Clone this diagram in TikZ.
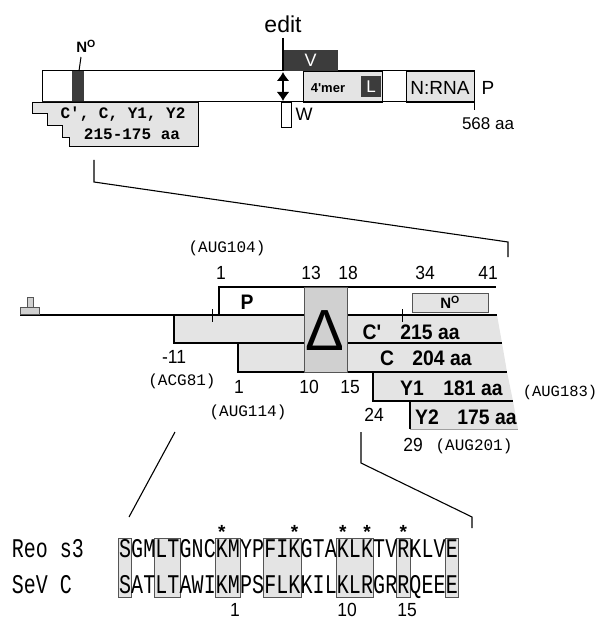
\documentclass[tikz,border=0pt]{standalone}
\usepackage{fontspec}
\setmainfont{Liberation Sans}
\newfontfamily\plainsans{Liberation Sans}
\newfontfamily\narrowf[FakeStretch=0.92]{Liberation Sans}
\newfontfamily\monof{Liberation Mono}
\newfontfamily\seqf[FakeStretch=0.74]{Liberation Mono}
\usetikzlibrary{arrows.meta}
\newcommand\fsz[1]{\fontsize{#1}{#1}\selectfont}
\definecolor{lg}{HTML}{E4E4E4}
\definecolor{mg}{HTML}{D0D0D0}
\definecolor{dg}{HTML}{3C3C3C}
\definecolor{bx}{HTML}{555555}
\tikzset{
  every node/.style={inner sep=0pt, outer sep=0pt},
  lab/.style={font=\fsz{19}\narrowf},
  blab/.style={font=\fsz{21}\narrowf\bfseries},
  mlab/.style={font=\fsz{16}\monof},
  seqc/.style={font=\fsz{27}\seqf, anchor=base},
  star/.style={font=\fsz{19}\bfseries, anchor=base},
  hl/.style={fill=lg, draw=bx, line width=0.8pt},
  rowfill/.style={fill=lg},
  zl/.style={line width=1.1pt},
}
\begin{document}
\begin{tikzpicture}[x=1pt,y=-1pt]
\useasboundingbox (0,0) rectangle (598,620);

% ===== top: P gene =====
\draw[line width=1pt, fill=white] (42,71) rectangle (474,102);
\fill[dg] (72,71) rectangle (84,102);
\draw[fill=lg, line width=0.8pt] (303,71) rectangle (382,102);
\draw[fill=lg, line width=0.8pt] (406,71) rectangle (474,102);
\draw[line width=1pt] (42,71) rectangle (474,102);
\node[fill=dg, minimum width=20pt, minimum height=21pt, text=white, font=\fsz{17}] (Lb) at (371,87) {L};
\node[font=\fsz{13}\plainsans\bfseries] (mer) at (328,88) {4'mer};
\node[font=\fsz{19}] (nrna) at (440,88) {N:RNA};
\node[font=\fsz{19}] (Ptop) at (488,88) {P};
\coordinate (endtick) at (474,110);
\draw[line width=0.8pt] (474,102) -- (endtick);
\node[font=\fsz{17}] (aa568) at (488,124) {568 aa};

\node[fill=dg, minimum width=55pt, minimum height=21pt, anchor=north west] (Vb) at (283,50) {};
\node[text=white, font=\fsz{18}] (V) at (Vb.center) {V};
\node[font=\fsz{23}] (edit) at (283,24) {edit};
\coordinate (editlo) at (283,38);
\draw[line width=1.2pt] (editlo) -- (Vb.south west);
\draw[line width=2.4pt, {Latex[length=9pt,width=13pt]}-{Latex[length=9pt,width=13pt]}] (283,72) -- (283,101);
\node[draw, line width=0.8pt, fill=white, minimum width=10pt, minimum height=25pt, anchor=north west] (Wb) at (281,102) {};
\node[font=\fsz{18}] (W) at (304,114) {W};

\node[font=\fsz{15}\bfseries] (No1) at (86,46) {N\textsuperscript{O}};
\draw[line width=1pt] (81,57) -- (79,71);

\draw[fill=lg, line width=0.9pt] (32,102) -- (198,102) -- (198,146) -- (69,146) -- (69,137) -- (62,137) -- (62,125) -- (47,125) -- (47,113) -- (32,113) -- cycle;
\node[font=\fsz{16}\monof\bfseries] (cc) at (123,114) {C', C, Y1, Y2};
\node[font=\fsz{16}\monof\bfseries] (aa215) at (132,134) {215-175 aa};

\coordinate (z1a) at (94,160);
\coordinate (z1b) at (94,182);
\coordinate (z1c) at (508,242);
\coordinate (z1d) at (508,257);
\draw[zl] (z1a) -- (z1b) -- (z1c) -- (z1d);

% ===== middle: C region =====
\fill[rowfill] (174,315) -- (497,315) -- (502,343) -- (174,343) -- cycle;
\fill[rowfill] (238,343) -- (502,343) -- (507,372) -- (238,372) -- cycle;
\fill[rowfill] (373,372) -- (507,372) -- (513,401) -- (373,401) -- cycle;
\fill[rowfill] (410,401) -- (513,401) -- (518,429) -- (410,429) -- cycle;
\draw[line width=1.1pt] (174,315) -- (174,343) -- (502,343);
\draw[line width=1.1pt] (238,343) -- (238,372) -- (507,372);
\draw[line width=1.1pt] (373,372) -- (373,401) -- (513,401);
\draw[line width=1.1pt] (410,401) -- (410,429);
\draw[line width=0.5pt, draw=lg!70!black] (410,429) -- (518,429);

\draw[line width=1.5pt] (20,315) -- (497,315);
\draw[fill=mg, draw=bx, line width=0.8pt] (27,297) rectangle (33,307);
\draw[fill=mg, draw=bx, line width=0.8pt] (20,307) rectangle (39,314);
\draw[line width=1.1pt] (219,315) -- (219,287) -- (496,287);
\draw[line width=0.6pt] (212,309) -- (212,322);
\draw[line width=0.6pt] (402,309) -- (402,322);
\draw[hl] (412,293) rectangle (488,312);
\node[font=\fsz{15}\bfseries] (No2) at (450,302) {N\textsuperscript{O}};
\node[blab] (Pmid) at (247,302) {P};

\draw[fill=mg, draw=bx, line width=0.8pt] (304,287) rectangle (347,372);
\node[font=\fsz{58}] (Delta) at (325,331) {Δ};

\node[blab] (Cp) at (372,332) {C'};
\node[blab] (a215) at (430,332) {215 aa};
\node[blab] (Cc) at (387,358) {C};
\node[blab] (a204) at (442,358) {204 aa};
\node[blab] (Y1) at (412,388) {Y1};
\node[blab] (a181) at (473,388) {181 aa};
\node[blab] (Y2) at (427,417) {Y2};
\node[blab] (a175) at (487,417) {175 aa};

\node[mlab] (aug104) at (227,248) {(AUG104)};
\node[lab] (n1a) at (221,273) {1};
\node[lab] (n13) at (311,273) {13};
\node[lab] (n18) at (348,273) {18};
\node[lab] (n34) at (425,273) {34};
\node[lab] (n41) at (488,273) {41};
\node[lab] (nm11) at (174,357) {-11};
\node[mlab] (acg81) at (182,381) {(ACG81)};
\node[lab] (n1b) at (239,387) {1};
\node[lab] (n10) at (309,387) {10};
\node[lab] (n15) at (350,387) {15};
\node[mlab] (aug114) at (248,412) {(AUG114)};
\node[lab] (n24) at (374,415) {24};
\node[font=\fsz{15.5}\monof] (aug183) at (560,392) {(AUG183)};
\node[lab] (n29) at (413,445) {29};
\node[mlab] (aug201) at (474,446) {(AUG201)};

\coordinate (z2a) at (175,432);
\coordinate (z2b) at (129,517);
\draw[zl] (z2a) -- (z2b);
\coordinate (z3a) at (361,432);
\coordinate (z3b) at (361,463);
\coordinate (z3c) at (472,517);
\coordinate (z3d) at (472,528);
\draw[zl] (z3a) -- (z3b) -- (z3c) -- (z3d);

% ===== bottom: alignment =====
\foreach \i/\j in {0/0, 3/4, 8/9, 12/14, 18/20, 23/23, 27/27}
  \draw[hl] ({119+12.1*\i-0.5},538) rectangle ({119+12.1*(\j+1)+0.5},597);
\foreach \c [count=\i from 0] in {S,G,M,L,T,G,N,C,K,M,Y,P,F,I,K,G,T,A,K,L,K,T,V,R,K,L,V,E}
  \node[seqc] (ra\i) at ({119+12.1*(\i+0.5)},557) {\c};
\foreach \c [count=\i from 0] in {S,A,T,L,T,A,W,I,K,M,P,S,F,L,K,K,I,L,K,L,R,G,R,R,Q,E,E,E}
  \node[seqc] (rb\i) at ({119+12.1*(\i+0.5)},593) {\c};
\foreach \i in {8,14,18,20,23}
  \node[star] (st\i) at ({119+12.1*(\i+0.5)},538.5) {*};
\node[font=\fsz{27}\seqf, anchor=base west] (reo) at (12,557) {Reo s3};
\node[font=\fsz{27}\seqf, anchor=base west] (sev) at (12,593) {SeV C};
\node[lab] (b1) at (235,610) {1};
\node[lab] (b10) at (347,610) {10};
\node[lab] (b15) at (407,610) {15};
\end{tikzpicture}
\end{document}
